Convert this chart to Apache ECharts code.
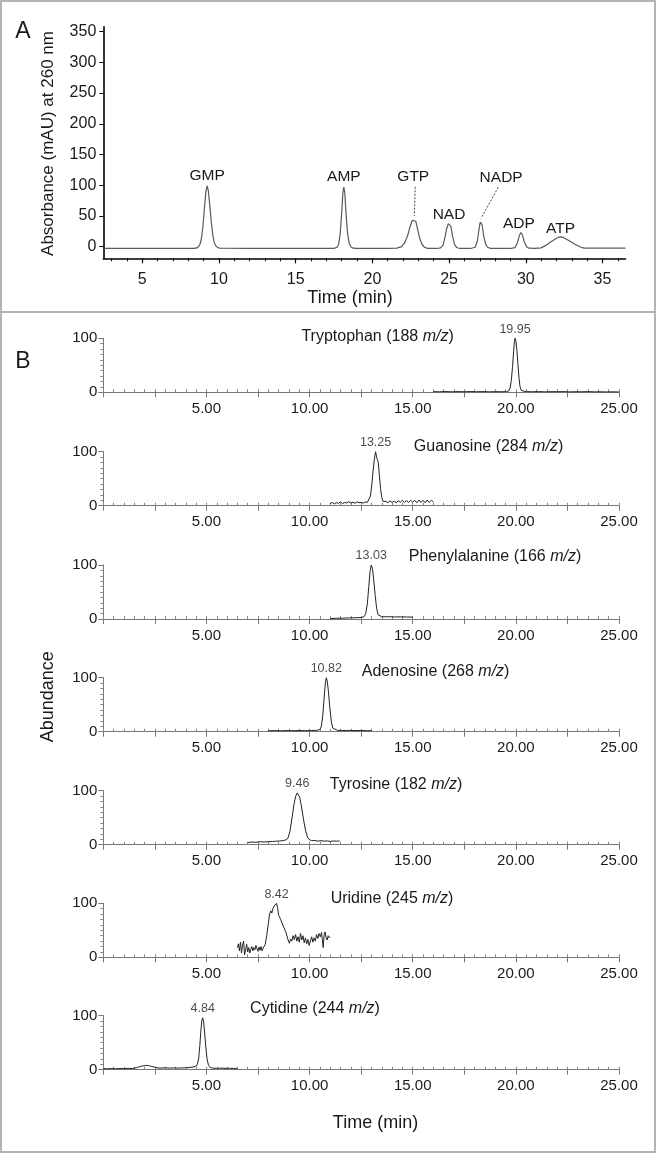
<!DOCTYPE html>
<html><head><meta charset="utf-8">
<script src="https://cdn.jsdelivr.net/npm/echarts@6/dist/echarts.min.js"></script>
<style>html,body{margin:0;padding:0;background:#fff}#c{width:656px;height:1153px}</style>
</head><body><div id="c"></div>
<script>
// ================= DATA =================
// Panel A: HPLC chromatogram, absorbance (mAU) at 260 nm vs time (min)
const hplcTrace = [
 [2.46,-3],[4,-3],[6,-3],[8,-3],[8.4,-2.8],[8.6,-1.5],[8.75,3],[8.85,12],[8.95,32],[9.05,62],[9.15,90],[9.23,99],[9.3,92],[9.4,68],[9.5,40],[9.6,18],[9.7,6],[9.8,1],[9.95,-2],[10.1,-2.6],
 [12,-3],[14,-3],[17,-3],[17.5,-2.8],[17.7,-1],[17.8,4],[17.9,20],[18.0,55],[18.08,88],[18.14,97],[18.2,88],[18.28,55],[18.38,22],[18.48,6],[18.6,0],[18.75,-2.5],[19,-3],
 [21,-3],[21.6,-2.5],[21.9,0],[22.1,6],[22.3,18],[22.45,32],[22.6,43],[22.73,46],[22.83,41],[22.95,28],[23.1,12],[23.25,3],[23.4,-1],[23.6,-2.8],
 [24.2,-3],[24.45,-2],[24.6,2],[24.72,14],[24.85,30],[24.95,37],[25.04,39],[25.12,33],[25.22,18],[25.35,4],[25.5,-1.5],[25.7,-3],
 [26.4,-3],[26.7,-1],[26.85,10],[26.95,28],[27.03,40],[27.09,42],[27.15,36],[27.25,18],[27.38,4],[27.5,-1],[27.7,-2.8],
 [29.0,-3],[29.3,-1.5],[29.45,6],[29.58,18],[29.68,23],[29.78,19],[29.9,8],[30.05,0],[30.2,-2.5],[30.6,-3],
 [31.0,-2],[31.3,2],[31.6,7],[31.9,12],[32.1,15],[32.27,16],[32.45,15],[32.8,10],[33.2,4],[33.6,-1],[33.8,-2.5],[34.5,-2.5],[36.5,-2.5]
];
const hplcPeakNames   = ['GMP','AMP','GTP','NAD','NADP','ADP','ATP'];
const hplcPeakTimes   = [9.23, 18.14, 22.73, 25.04, 27.09, 29.68, 32.27];
const hplcPeakHeights = [99, 97, 46, 39, 42, 23, 16];
const hplcYTicks  = [0,50,100,150,200,250,300,350];
const hplcXLabels = [5,10,15,20,25,30,35];
const hplcXMinor  = [3,4,6,7,8,9,11,12,13,14,16,17,18,19,21,22,23,24,26,27,28,29,31,32,33,34,36];

// Panel B: LC-MS extracted ion chromatograms, abundance (%) vs time (min)
const msNames = ['Tryptophan','Guanosine','Phenylalanine','Adenosine','Tyrosine','Uridine','Cytidine'];
const msMz    = [188, 284, 166, 268, 182, 245, 244];
const msPeakLabels = ['19.95','13.25','13.03','10.82','9.46','8.42','4.84'];
const msXLabels = [5,10,15,20,25];

const msTryptophan = [[16.0,1.2],[16.3,1.0],[16.6,1.4],[16.9,0.9],[17.2,1.3],[17.5,1.0],[17.8,1.4],[18.1,1.1],[18.4,1.3],[18.7,0.9],[19.0,1.2],[19.3,1.0],[19.55,1.3],[19.65,2.5],[19.72,8],[19.78,22],[19.84,48],[19.89,75],[19.93,94],[19.96,100],[20.0,95],[20.05,78],[20.1,52],[20.15,27],[20.2,11],[20.26,3.5],[20.33,1.5],[20.5,1.2],[20.8,1.0],[21.1,1.3],[21.4,0.9],[21.7,1.2],[22.0,1.0],[22.3,1.3],[22.6,0.8],[22.9,1.1],[23.2,0.9],[23.5,1.2],[23.8,0.8],[24.1,1.0],[24.4,0.7],[24.7,0.9],[25.0,0.6]];
const msGuanosine = [[11.0,4],[11.1,6],[11.2,3.5],[11.3,5.5],[11.4,4.5],[11.5,7],[11.6,4],[11.7,6],[11.8,5],[11.9,7.5],[12.0,5],[12.1,6.5],[12.2,4.5],[12.3,7],[12.4,5.5],[12.5,6],[12.6,5],[12.7,7],[12.8,6],[12.88,9],[12.95,18],[13.02,40],[13.08,65],[13.14,86],[13.2,100],[13.24,92],[13.28,86],[13.33,80],[13.38,58],[13.44,32],[13.5,15],[13.56,8],[13.62,6],[13.7,8],[13.8,5.5],[13.9,9],[14.0,6],[14.1,8.5],[14.2,5.5],[14.3,9],[14.4,6.5],[14.5,10],[14.6,6],[14.7,9.5],[14.8,6],[14.9,10],[15.0,6.5],[15.1,10],[15.2,5.5],[15.3,10.5],[15.4,6],[15.5,10],[15.6,5.5],[15.7,10.5],[15.8,6],[15.9,10],[16.0,7]];
const msPhenylalanine = [[11.0,1],[11.3,1.3],[11.6,1.5],[11.9,2],[12.2,2.3],[12.4,2.6],[12.55,3],[12.65,4.5],[12.72,10],[12.8,28],[12.87,60],[12.93,88],[12.99,100],[13.05,93],[13.11,72],[13.18,44],[13.25,20],[13.32,8],[13.4,5],[13.5,4],[13.8,4.2],[14.1,3.8],[14.4,4],[14.7,3.7],[15.0,3.5]];
const msAdenosine = [[8.0,1.8],[8.3,2],[8.6,1.7],[8.9,2.1],[9.2,1.8],[9.5,2.2],[9.8,1.9],[10.1,2.3],[10.35,2.5],[10.5,4],[10.57,10],[10.64,30],[10.7,60],[10.76,88],[10.81,100],[10.86,93],[10.92,72],[10.98,45],[11.05,20],[11.12,7],[11.2,3.5],[11.35,2.5],[11.6,2.2],[11.9,2.4],[12.2,2.0],[12.5,2.2],[12.8,1.9],[13.0,2.0]];
const msTyrosine = [[7.0,4],[7.2,5],[7.4,4.5],[7.6,5.5],[7.8,5],[8.0,5.5],[8.2,6],[8.4,6.5],[8.55,7],[8.7,7.5],[8.85,9],[8.95,12],[9.05,25],[9.15,50],[9.25,76],[9.33,90],[9.4,96],[9.46,95],[9.52,88],[9.6,72],[9.7,48],[9.8,27],[9.9,14],[10.0,9],[10.1,7.5],[10.25,8],[10.4,6.5],[10.55,7.5],[10.7,6.5],[10.85,7],[11.0,6],[11.15,7],[11.3,6.5],[11.45,7]];
const msUridine = [[6.5,18],[6.55,25],[6.6,12],[6.65,28],[6.7,8],[6.75,22],[6.8,30],[6.85,5],[6.9,14],[6.95,24],[7.0,10],[7.05,18],[7.1,8],[7.15,15],[7.2,20],[7.25,12],[7.3,18],[7.35,14],[7.4,22],[7.45,16],[7.5,11],[7.55,19],[7.6,13],[7.65,20],[7.7,12],[7.75,17],[7.8,14],[7.85,24],[7.92,40],[8.0,62],[8.06,80],[8.12,86],[8.17,82],[8.22,90],[8.28,95],[8.34,98],[8.4,100],[8.45,92],[8.5,78],[8.55,80],[8.6,70],[8.66,72],[8.72,58],[8.78,60],[8.84,48],[8.9,45],[8.96,32],[9.02,26],[9.08,34],[9.14,30],[9.2,40],[9.26,33],[9.32,42],[9.38,30],[9.44,38],[9.5,28],[9.56,44],[9.62,32],[9.68,40],[9.74,27],[9.8,36],[9.86,25],[9.92,33],[9.98,22],[10.04,30],[10.1,38],[10.16,28],[10.22,36],[10.28,30],[10.34,42],[10.4,35],[10.46,44],[10.52,38],[10.58,46],[10.62,33],[10.66,18],[10.7,40],[10.75,47],[10.8,36],[10.85,32],[10.9,40],[10.95,36],[11.0,38]];
const msCytidine = [[0.0,2],[0.2,1.5],[0.4,2.2],[0.6,1.6],[0.8,2.3],[1.0,1.8],[1.2,2.5],[1.4,2.2],[1.6,3.5],[1.75,5.5],[1.9,7],[2.05,8],[2.2,7.5],[2.35,6],[2.5,4.5],[2.65,3.2],[2.8,3],[3.0,3.5],[3.2,3],[3.4,3.4],[3.6,3],[3.8,3.3],[4.0,3.5],[4.2,4.2],[4.35,5],[4.45,6],[4.55,9],[4.62,20],[4.68,45],[4.73,72],[4.78,92],[4.82,96],[4.86,90],[4.91,70],[4.97,42],[5.03,20],[5.1,8],[5.18,4],[5.3,3],[5.5,2.5],[5.7,3],[5.9,2.4],[6.1,2.7],[6.3,2.3],[6.5,2.5]];
const msTraces = [msTryptophan, msGuanosine, msPhenylalanine, msAdenosine, msTyrosine, msUridine, msCytidine];

// ================= LAYOUT / STYLE =================
const FONT = '"Liberation Sans", Arial, Helvetica, sans-serif';
const TXT = '#1a1a1a';
const gridA = {left:103.3, top:26.7, width:522.2, height:231.6};
const bTops = [338.3, 451.7, 565, 677.7, 790.7, 903.3, 1015.7];
const bLeft = 103.3, bWidth = 515.7, bHeight = 54;
const bTitlePos = [[377.6,336.7],[488.5,446.7],[495,556.7],[435.6,671.7],[396,785],[392,898.3],[315,1008.3]];
const annotOffset = {GMP:[0,-10.5], AMP:[0,-10.5], GTP:[-1,-41.6], NAD:[-0.7,-8], NADP:[20,-43], ADP:[-2,-8.5], ATP:[0,-8]};
const leaders = {GTP:[2,10], NADP:[-3,9.5]};

const grids = [Object.assign({outerBoundsMode:'none', containLabel:false}, gridA)];
const xAxes = [], yAxes = [], series = [];

// Panel A axes
xAxes.push({type:'value', gridIndex:0, position:'bottom', min:2.46, max:36.5,
  axisLine:{show:true, onZero:false, lineStyle:{color:'#000', width:1.6}},
  axisTick:{show:true, customValues:hplcXLabels, length:5, lineStyle:{color:'#000', width:1.2}},
  axisLabel:{show:true, customValues:hplcXLabels, fontSize:16, margin:13, color:TXT, fontFamily:FONT},
  splitLine:{show:false}});
xAxes.push({type:'value', gridIndex:0, position:'bottom', min:2.46, max:36.5,
  axisLine:{show:false, onZero:false},
  axisTick:{show:true, customValues:hplcXMinor, length:3, lineStyle:{color:'#000', width:1}},
  axisLabel:{show:false}, splitLine:{show:false}});
yAxes.push({type:'value', gridIndex:0, min:-19, max:358,
  axisLine:{show:true, onZero:false, lineStyle:{color:'#000', width:1.6}},
  axisTick:{show:true, customValues:hplcYTicks, length:4, lineStyle:{color:'#000', width:1}},
  axisLabel:{show:true, customValues:hplcYTicks, fontSize:16, margin:7, color:TXT, fontFamily:FONT},
  splitLine:{show:false}});
series.push({type:'line', xAxisIndex:0, yAxisIndex:0, data:hplcTrace, showSymbol:false, symbol:'none',
  lineStyle:{color:'#5a5a5a', width:1.2}, animation:false, z:3});

// Panel B
msTraces.forEach((tr, i) => {
  const gi = i + 1;
  grids.push({left:bLeft, top:bTops[i], width:bWidth, height:bHeight, outerBoundsMode:'none', containLabel:false});
  xAxes.push({type:'value', gridIndex:gi, position:'bottom', min:0, max:25, interval:2.5,
    axisLine:{show:true, onZero:false, lineStyle:{color:'#777', width:1}},
    axisTick:{show:true, length:5, lineStyle:{color:'#777', width:1}},
    axisLabel:{show:true, fontSize:15, margin:9, color:TXT, fontFamily:FONT,
      formatter: v => (v > 0 && Math.abs(v % 5) < 1e-6) ? v.toFixed(2) : ''},
    splitLine:{show:false}});
  xAxes.push({type:'value', gridIndex:gi, position:'bottom', min:0, max:25, interval:0.5,
    axisLine:{show:false, onZero:false},
    axisTick:{show:true, inside:true, length:3, lineStyle:{color:'#888', width:1}},
    axisLabel:{show:false}, splitLine:{show:false}});
  yAxes.push({type:'value', gridIndex:gi, min:0, max:100, interval:100,
    axisLine:{show:true, onZero:false, lineStyle:{color:'#777', width:1}},
    axisTick:{show:true, length:5, lineStyle:{color:'#777', width:1}},
    minorTick:{show:true, splitNumber:10, length:3, lineStyle:{color:'#888', width:1}},
    axisLabel:{show:true, fontSize:15, margin:6, color:TXT, fontFamily:FONT},
    splitLine:{show:false}, minorSplitLine:{show:false}});
  const xi = xAxes.length - 2, yi = yAxes.length - 1;
  series.push({type:'line', xAxisIndex:xi, yAxisIndex:yi, data:tr, showSymbol:false, symbol:'none',
    lineStyle:{color:'#222', width:1}, animation:false, z:3});
  // peak label at the apex of the trace
  let apex = tr[0];
  tr.forEach(p => { if (p[1] > apex[1]) apex = p; });
  series.push({type:'scatter', xAxisIndex:xi, yAxisIndex:yi, data:[apex], symbolSize:1,
    itemStyle:{color:'rgba(0,0,0,0)'}, animation:false, silent:true,
    label:{show:true, position:'top', distance:2, formatter:msPeakLabels[i], fontSize:12.5, color:TXT, fontFamily:FONT}});
});

const chart = echarts.init(document.getElementById('c'), null, {renderer:'canvas', width:656, height:1153});
chart.setOption({animation:false, backgroundColor:'#fff', grid:grids, xAxis:xAxes, yAxis:yAxes, series:series});

// ================= GRAPHICS (texts, frame) =================
function txt(x, y, text, size, extra) {
  return Object.assign({type:'text', x:x, y:y, z:10, silent:true,
    style:Object.assign({text:text, fill:TXT, font:size + 'px ' + FONT,
      textAlign:'center', textVerticalAlign:'middle', align:'center', verticalAlign:'middle'}, {})}, extra || {});
}
const g = [];
g.push({type:'rect', shape:{x:1, y:1, width:654, height:1151}, style:{fill:'none', stroke:'#b4b4b4', lineWidth:2}, z:1, silent:true});
g.push({type:'line', shape:{x1:0, y1:312, x2:656, y2:312}, style:{stroke:'#b4b4b4', lineWidth:2}, z:1, silent:true});
g.push(txt(23, 32, 'A', 23));
g.push(txt(23, 362, 'B', 23));
g.push(txt(350, 298, 'Time (min)', 18));
g.push(txt(48, 143.5, 'Absorbance (mAU) at 260 nm', 17, {rotation:Math.PI/2}));
g.push(txt(48, 696.7, 'Abundance', 18, {rotation:Math.PI/2}));
g.push(txt(375.5, 1123.3, 'Time (min)', 18));

hplcPeakNames.forEach((n, i) => {
  const p = chart.convertToPixel({xAxisIndex:0, yAxisIndex:0}, [hplcPeakTimes[i], hplcPeakHeights[i]]);
  const o = annotOffset[n];
  const lx = p[0] + o[0], ly = p[1] + o[1];
  g.push(txt(lx, ly, n, 15.5));
  if (leaders[n]) {
    g.push({type:'line', z:9, silent:true, shape:{x1:lx + leaders[n][0], y1:ly + leaders[n][1], x2:p[0], y2:p[1] - 2.5},
      style:{stroke:'#333', lineWidth:0.9, lineDash:[2,1.5]}});
  }
});

msNames.forEach((n, i) => {
  g.push({type:'text', x:bTitlePos[i][0], y:bTitlePos[i][1], z:10, silent:true,
    style:{text:'{n|' + n + ' (' + msMz[i] + ' }{i|m/z}{n|)}', textAlign:'center', textVerticalAlign:'middle', align:'center', verticalAlign:'middle',
      rich:{n:{fontSize:16, fontFamily:FONT, color:TXT, fill:TXT}, i:{fontSize:16, fontFamily:FONT, fontStyle:'italic', color:TXT, fill:TXT}}}});
});

chart.setOption({graphic:g});
</script></body></html>
